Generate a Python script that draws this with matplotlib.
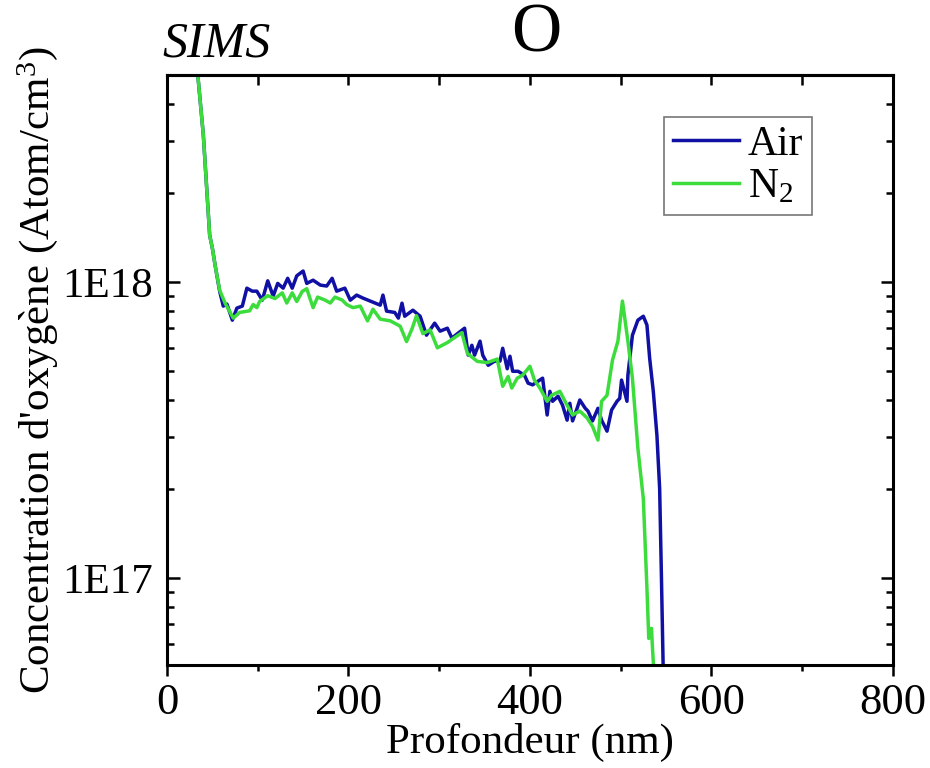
import matplotlib
matplotlib.use("Agg")
import matplotlib.pyplot as plt
from matplotlib.ticker import FixedLocator, FuncFormatter, MultipleLocator

plt.rcParams['font.family'] = ['Liberation Serif', 'DejaVu Serif']
plt.rcParams['mathtext.fontset'] = 'custom'
plt.rcParams['mathtext.rm'] = 'Liberation Serif'
plt.rcParams['mathtext.it'] = 'Liberation Serif:italic'

# profil SIMS de l'oxygene, recuit sous air et sous N2
air_depth = [32, 34, 40, 47, 50, 53, 58, 62, 66, 72, 77, 83, 88, 94, 99, 105, 111, 117, 122, 128,
             133, 138, 143, 150, 154, 161, 169, 176, 182, 187, 196, 202, 209, 216, 224, 235, 238,
             242, 251, 255, 259, 262, 271, 279, 286, 295, 301, 309, 314, 321, 328, 332, 336, 339,
             345, 348, 354, 361, 367, 370, 375, 378, 381, 387, 394, 398, 403, 409, 414, 419, 422,
             425, 431, 436, 441, 444, 447, 452, 455, 461, 464, 469, 475, 479, 485, 490, 496, 499,
             501, 507, 508, 513, 519, 525, 529, 532, 536, 540, 543, 545, 547]
air_conc = [60, 49.7, 31.4, 14.4, 13.0, 11.4, 9.32, 8.30, 8.43, 7.44, 8.17, 8.30, 9.54, 9.32, 9.32,
            8.69, 10.1, 8.97, 9.9, 9.54, 10.3, 9.54, 10.5, 10.9, 9.9, 10.15, 9.77, 9.7, 10.3, 9.32,
            9.54, 8.69, 9.04, 8.83, 8.63, 8.36, 9.04, 7.98, 7.9, 7.56, 8.49, 7.67, 8.04, 7.67, 6.62,
            7.27, 6.83, 6.99, 6.47, 6.73, 6.99, 5.67, 6.12, 5.67, 6.32, 5.67, 5.24, 5.41, 5.41, 5.98,
            5.10, 5.62, 5.00, 5.00, 4.85, 4.56, 4.50, 4.63, 4.74, 3.56, 4.28, 3.96, 4.12, 3.84, 3.42,
            3.90, 3.40, 3.75, 4.00, 3.75, 3.67, 3.40, 3.75, 3.42, 3.14, 3.70, 3.96, 4.05, 4.67, 3.96,
            4.85, 6.62, 7.44, 7.67, 7.16, 5.53, 4.28, 3.04, 2.01, 1.0, 0.48]

n2_depth = [32, 34, 40, 47, 50, 53, 58, 64, 73, 80, 91, 95, 99, 102, 111, 119, 127, 132, 138, 143,
            149, 154, 161, 166, 174, 180, 185, 193, 198, 205, 213, 221, 227, 235, 246, 257, 264, 270,
            275, 282, 290, 298, 309, 317, 325, 331, 342, 353, 364, 370, 376, 380, 386, 392, 400, 405,
            411, 419, 424, 433, 441, 447, 455, 463, 469, 475, 479, 485, 491, 497, 502, 508, 513, 519,
            525, 529, 531, 534, 535, 537]
n2_conc = [60, 49.7, 31.4, 14.4, 13.0, 11.4, 9.4, 8.49, 7.56, 7.9, 8.0, 8.4, 8.2, 8.6, 9.0,
           8.8, 9.2, 8.5, 9.2, 8.6, 9.3, 9.5, 8.2, 8.9, 8.7, 8.5, 8.9, 8.7, 8.4, 8.2,
           8.3, 7.4, 8.1, 7.5, 7.4, 7.1, 6.3, 6.95, 7.7, 6.7, 6.9, 6.0, 6.25, 6.5, 6.75,
           5.75, 5.4, 5.35, 5.5, 4.45, 4.80, 4.39, 4.74, 4.85, 5.20, 4.67, 4.39, 3.96, 4.15, 4.28,
           3.84, 3.56, 3.67, 3.48, 3.26, 2.93, 3.96, 4.15, 5.45, 6.32, 8.63, 6.32, 4.74, 2.75, 1.86,
           0.925, 0.627, 0.678, 0.59, 0.46]

unit = 1e17
x_ticks = [0, 200, 400, 600, 800]
y_ticks = [1e17, 1e18]
y_labels = ["1E17", "1E18"]

fig = plt.figure(figsize=(9.3, 7.68), dpi=100)
ax = fig.add_axes([0.1796, 0.1341, 0.7804, 0.7682])

ax.plot(air_depth, [c * unit for c in air_conc], color='#1010a4', lw=2.5, label='Air')
ax.plot(n2_depth, [c * unit for c in n2_conc], color='#3ddc3d', lw=2.5, label='N$_2$')

ax.set_yscale('log')
ax.set_xlim(0, 800)
ax.set_ylim(5.1e16, 5.0e18)

ax.xaxis.set_major_locator(FixedLocator(x_ticks))
ax.xaxis.set_minor_locator(MultipleLocator(100))
ax.yaxis.set_major_locator(FixedLocator(y_ticks))
ax.yaxis.set_major_formatter(FuncFormatter(lambda v, p: y_labels[y_ticks.index(v)] if v in y_ticks else ""))

ax.tick_params(axis='x', which='both', direction='out', top=False, labelsize=32, width=1.8, pad=5)
ax.tick_params(axis='x', which='major', length=8)
ax.tick_params(axis='x', which='minor', length=4)
ax.tick_params(axis='y', which='both', direction='in', right=True, labelsize=31, width=1.8, pad=10)
ax.tick_params(axis='y', which='major', length=9)
ax.tick_params(axis='y', which='minor', length=5)
ax.yaxis.set_minor_formatter(FuncFormatter(lambda v, p: ""))

# ticks du haut vers l'interieur
top = ax.secondary_xaxis('top')
top.set_xticks([100, 200, 300, 400, 500, 600, 700])
top.tick_params(direction='in', length=7, width=1.8, labeltop=False)
top.set_xticklabels([])

for s in ax.spines.values():
    s.set_linewidth(2.2)
top.spines['top'].set_linewidth(2.2)

ax.set_xlabel('Profondeur (nm)', fontsize=31, labelpad=0)
ax.set_ylabel("Concentration d'oxygène (Atom/cm$^3$)", fontsize=31, labelpad=2)

fig.text(0.577, 0.955, 'O', fontsize=50, ha='center', va='center')
fig.text(0.233, 0.942, 'SIMS', fontsize=36, style='italic', ha='center', va='center')

leg = ax.legend(loc='upper right', bbox_to_anchor=(0.888, 0.929), fontsize=30, frameon=True,
                fancybox=False, edgecolor='#555555', handlelength=1.6, handletextpad=0.2,
                borderpad=0.2, labelspacing=0.1, borderaxespad=0)
leg.get_frame().set_linewidth(1.2)

fig.savefig('out.png', dpi=100)
